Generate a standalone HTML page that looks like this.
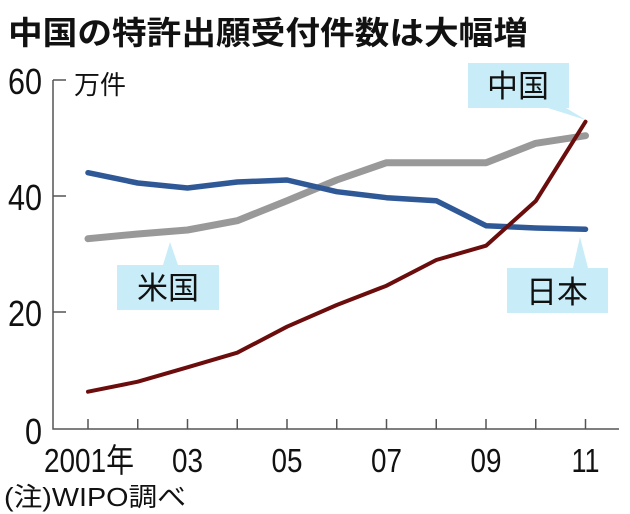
<!DOCTYPE html>
<html><head><meta charset="utf-8"><style>
body{margin:0;background:#fff;}
svg{display:block;font-family:"Liberation Sans","Noto Sans CJK JP",sans-serif;}
</style></head><body>
<svg width="630" height="514" viewBox="0 0 630 514">
<text x="8" y="44" font-size="32" font-weight="bold" fill="#111" textLength="520" lengthAdjust="spacingAndGlyphs">中国の特許出願受付件数は大幅増</text>
<g fill="#111" font-size="36" text-anchor="end">
<text x="42" y="94" textLength="34" lengthAdjust="spacingAndGlyphs">60</text>
<text x="42" y="210" textLength="34" lengthAdjust="spacingAndGlyphs">40</text>
<text x="42" y="326" textLength="34" lengthAdjust="spacingAndGlyphs">20</text>
<text x="42" y="444" textLength="17" lengthAdjust="spacingAndGlyphs">0</text>
</g>
<text x="74" y="94" font-size="26" fill="#111">万件</text>
<g stroke="#555" stroke-width="1.5" fill="none">
<path d="M53 80 H66 M53 80 V429 H619 M53 196 H66 M53 312 H66"/>
<path d="M88 429v-10M137.75 429v-10M187.5 429v-10M237.25 429v-10M287 429v-10M336.75 429v-10M386.5 429v-10M436.25 429v-10M486 429v-10M535.75 429v-10M585.5 429v-10"/>
</g>
<g fill="#111" font-size="33" text-anchor="middle">
<text x="44" y="472" text-anchor="start" textLength="90" lengthAdjust="spacingAndGlyphs">2001年</text>
<text x="187.5" y="472" textLength="31" lengthAdjust="spacingAndGlyphs">03</text>
<text x="287" y="472" textLength="31" lengthAdjust="spacingAndGlyphs">05</text>
<text x="386.5" y="472" textLength="31" lengthAdjust="spacingAndGlyphs">07</text>
<text x="486" y="472" textLength="31" lengthAdjust="spacingAndGlyphs">09</text>
<text x="585.5" y="472" textLength="28" lengthAdjust="spacingAndGlyphs">11</text>
</g>
<text x="4" y="506" font-size="26" fill="#111" textLength="182" lengthAdjust="spacingAndGlyphs">(注)WIPO調べ</text>
<g fill="#c8ecf8">
<rect x="468" y="63" width="101" height="45"/><path d="M548 108 L586 120 L566 108Z"/>
<rect x="117" y="265" width="102" height="45"/><path d="M163 265 L170 242 L178 265Z"/>
<rect x="507" y="268" width="101" height="45"/><path d="M573 268 L580 237 L588 268Z"/>
</g>
<g fill="#111" font-size="31" text-anchor="middle">
<text x="518" y="97">中国</text>
<text x="168" y="299">米国</text>
<text x="557" y="303">日本</text>
</g>
<g fill="none" stroke-linejoin="round" stroke-linecap="round">
<polyline stroke="#999" stroke-width="7" points="88,238.7 137.75,234 187.5,230 237.25,220.7 287,200.7 336.75,180 386.5,162.7 436.25,162.7 486,162.7 535.75,143.3 585.5,135.7"/>
<polyline stroke="#2f5896" stroke-width="5.5" points="88,172.7 137.75,183 187.5,188 237.25,182 287,180 336.75,191.7 386.5,197.7 436.25,200.7 486,225.7 535.75,228 585.5,229.3"/>
<polyline stroke="#6b0d0d" stroke-width="4" points="88,391.7 137.75,381.7 187.5,367.3 237.25,352.7 287,326.7 336.75,305 386.5,285.7 436.25,260 486,245.7 535.75,201 585.5,121.7"/>
</g>
</svg>
</body></html>
